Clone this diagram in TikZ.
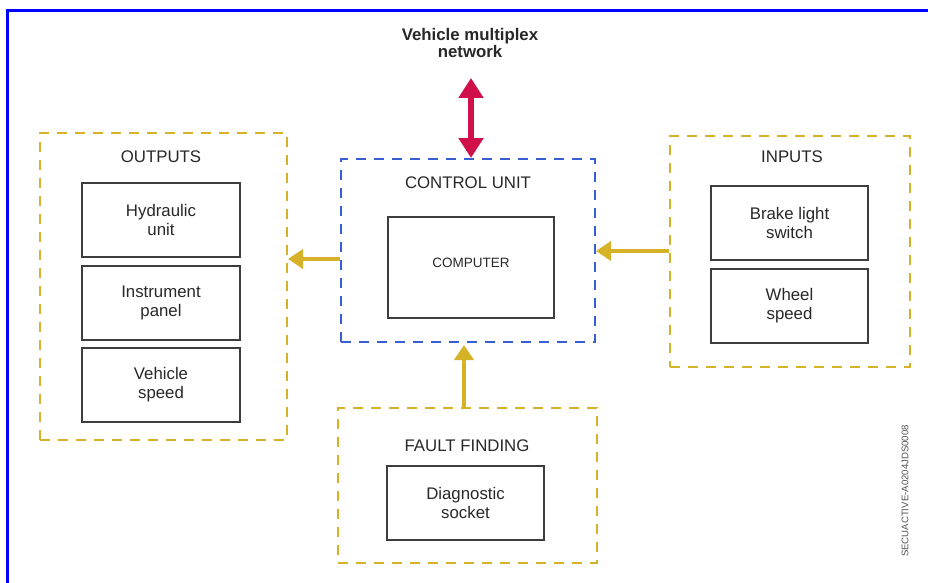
\documentclass[tikz,border=0pt]{standalone}
\usepackage{fontspec}
\setmainfont{Liberation Sans}
\usetikzlibrary{arrows.meta,calc}
\definecolor{ylw}{RGB}{214,178,40}
\definecolor{bdash}{RGB}{55,95,210}
\definecolor{frameblue}{RGB}{0,0,255}
\definecolor{redarr}{RGB}{208,16,74}
\definecolor{txt}{RGB}{40,40,40}
\tikzset{
  ybox/.style={draw=ylw, line width=2pt, dash pattern=on 10pt off 8pt, rectangle, inner sep=0pt},
  bbox/.style={draw=bdash, line width=2pt, dash pattern=on 10pt off 8pt, rectangle, inner sep=0pt},
  sbox/.style={draw=txt!90, line width=1.3pt, rectangle, inner sep=0pt, align=center, text=txt,
    font=\fontsize{16.8}{19}\selectfont},
  ttl/.style={text=txt, font=\fontsize{16.8}{19}\selectfont, inner sep=0pt},
  yarrow/.style={draw=ylw, line width=4pt, -{Triangle[width=19pt,length=15pt]}},
}
\begin{document}
\begin{tikzpicture}[x=1pt,y=-1pt]
\useasboundingbox (0,0) rectangle (928,583);
\fill[white] (0,0) rectangle (928,583);
% frame
\draw[frameblue, line width=3pt] (7.5,590) -- (7.5,10.5) -- (935,10.5);
% outputs
\node[ybox, minimum width=247pt, minimum height=307pt] (out) at (163.5,286.5) {};
\node[ttl] (outt) at (161,157) {OUTPUTS};
\node[sbox, minimum width=158pt, minimum height=74pt] (hyd) at (161,220) {Hydraulic\\unit};
\node[sbox, minimum width=158pt, minimum height=74pt] (ins) at (161,303) {Instrument\\panel};
\node[sbox, minimum width=158pt, minimum height=74pt] (vsp) at (161,385) {Vehicle\\speed};
% control unit
\node[bbox, minimum width=254pt, minimum height=183pt] (cu) at (468,250.5) {};
\node[ttl] (cut) at (468,183) {CONTROL UNIT};
\node[sbox, minimum width=166pt, minimum height=101pt, font=\fontsize{13.5}{16}\selectfont] (comp) at (471,267.5) {\raisebox{10pt}{COMPUTER}};
% inputs
\node[ybox, minimum width=240pt, minimum height=231pt] (inp) at (790,251.5) {};
\node[ttl] (inpt) at (792,157) {INPUTS};
\node[sbox, minimum width=157pt, minimum height=74pt] (brk) at (789.5,223) {Brake light\\switch};
\node[sbox, minimum width=157pt, minimum height=74pt] (whl) at (789.5,306) {Wheel\\speed};
% fault finding
\node[ybox, minimum width=259pt, minimum height=155pt] (ff) at (467.5,485.5) {};
\node[ttl] (fft) at (467,446) {FAULT FINDING};
\node[sbox, minimum width=157pt, minimum height=74pt] (diag) at (465.5,503) {Diagnostic\\socket};
% network
\node[text=txt, font=\bfseries\fontsize{16.8}{17}\selectfont, align=center, inner sep=0pt] (net) at (470,42.5) {Vehicle multiplex\\network};
\coordinate (netp) at (471,78);
\draw[redarr, line width=6pt, {Triangle[width=24pt,length=20pt]}-{Triangle[width=24pt,length=20pt]}] (netp) -- (netp |- cu.north);
% yellow arrows
\draw[yarrow] (cu.west |- 0,259) -- (out.east |- 0,259);
\draw[yarrow] (inp.west |- 0,251) -- (cu.east |- 0,251);
\draw[yarrow] (ff.north -| 464,0) -- ($(cu.south -| 464,0)+(0,2)$);
% code
\node[rotate=90, text=txt!80, font=\fontsize{9.6}{10}\selectfont, inner sep=0pt] (code) at (905,491) {SECUACTIVE-A0204JDS0008};
\end{tikzpicture}
\end{document}
